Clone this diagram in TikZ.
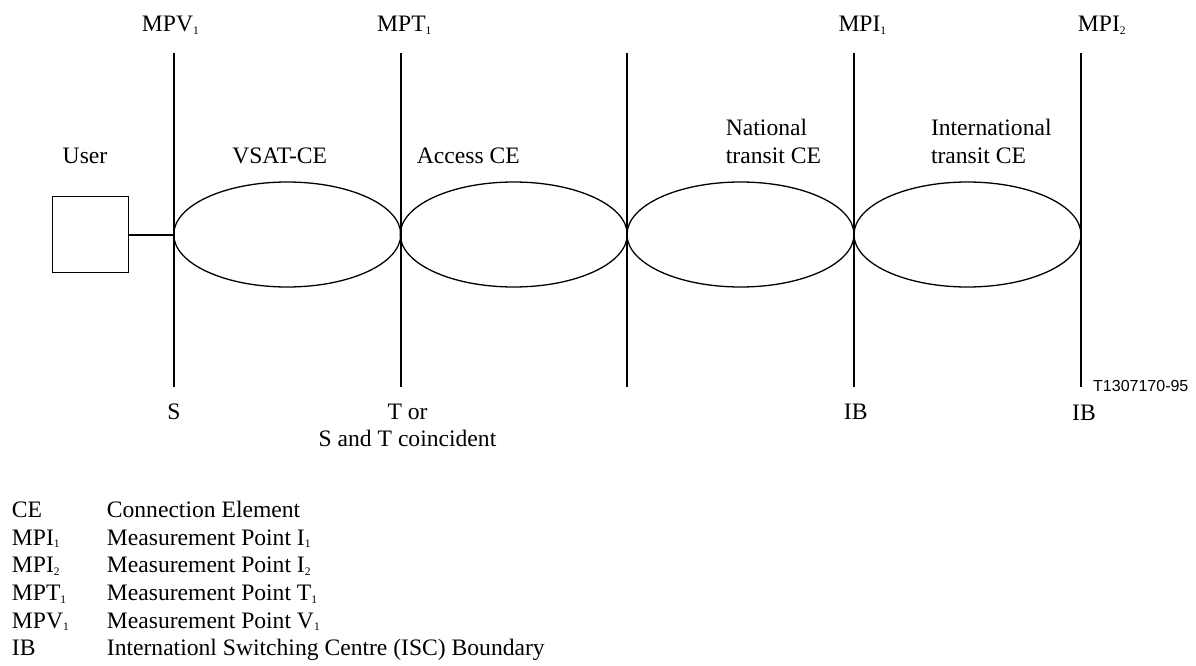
\documentclass[tikz,border=0pt]{standalone}
\usepackage{fontspec}
\setmainfont{Liberation Serif}
\newfontfamily\figsans{Liberation Sans}
\usetikzlibrary{shapes.geometric}
\newcommand\subx[1]{\raisebox{-2.5pt}{\fontsize{11.5}{12}\selectfont #1}}
\begin{document}
\begin{tikzpicture}[x=1pt,y=-1pt,
  txt/.style={inner sep=0pt, font=\fontsize{23.6}{27.6}\selectfont},
  vline/.style={line width=2pt},
  ce/.style={ellipse, draw, line width=1.3pt, minimum width=227pt, minimum height=105pt, inner sep=0pt},
  userbox/.style={rectangle, draw, line width=1.5pt, minimum size=76pt, inner sep=0pt},
]
\useasboundingbox (0,0) rectangle (1196,666);

% vertical boundary lines
\foreach \n/\x in {1/174,2/400.5,3/627,4/854,5/1081}{
  \coordinate (t\n) at (\x,53);
  \coordinate (b\n) at (\x,387);
  \draw[vline] (t\n) -- (b\n);
}

% connection elements
\node[ce] (e1) at (287.25,234.5) {};
\node[ce] (e2) at (513.75,234.5) {};
\node[ce] (e3) at (740.5,234.5) {};
\node[ce] (e4) at (967.5,234.5) {};

% user
\node[userbox] (user) at (90.3,234.5) {};
\draw[line width=2pt] (user.east) -- (e1.west);

% top labels
\node[txt, anchor=base west] (mpv) at (141.7,31.7) {MPV\subx{1}};
\node[txt, anchor=base west] (mpt) at (377,31.7) {MPT\subx{1}};
\node[txt, anchor=base west] (mpi1) at (838.3,31.7) {MPI\subx{1}};
\node[txt, anchor=base west] (mpi2) at (1077.7,31.7) {MPI\subx{2}};

% element labels
\node[txt, anchor=base] (luser) at (85,163) {User};
\node[txt, anchor=base] (lvsat) at (279.7,163) {VSAT-CE};
\node[txt, anchor=base west] (lacc) at (416.7,163) {Access CE};
\node[txt, anchor=north west, align=left] (lnat) at (725.7,119.4) {National\\transit CE};
\node[txt, anchor=north west, align=left] (lint) at (930.8,119.4) {International\\transit CE};

% bottom labels
\node[txt, anchor=base] (ls) at (174,419) {S};
\node[txt, anchor=north, align=center] (lt) at (407.5,403.4) {T or\\S and T coincident};
\node[txt, anchor=base] (lib1) at (855.7,419) {IB};
\node[txt, anchor=base] (lib2) at (1084,420.7) {IB};
\node[inner sep=0pt, anchor=base west, font=\figsans\fontsize{16}{18}\selectfont] (code) at (1093,391) {T1307170-95};

% legend
\node[txt, anchor=base west] (k1) at (11.7,517.7) {CE};
\node[txt, anchor=base west] (d1) at (106.7,517.7) {Connection Element};
\node[txt, anchor=base west] (k2) at (11.7,545.3) {MPI\subx{1}};
\node[txt, anchor=base west] (d2) at (106.7,545.3) {Measurement Point I\subx{1}};
\node[txt, anchor=base west] (k3) at (11.7,572.9) {MPI\subx{2}};
\node[txt, anchor=base west] (d3) at (106.7,572.9) {Measurement Point I\subx{2}};
\node[txt, anchor=base west] (k4) at (11.7,600.5) {MPT\subx{1}};
\node[txt, anchor=base west] (d4) at (106.7,600.5) {Measurement Point T\subx{1}};
\node[txt, anchor=base west] (k5) at (11.7,628.1) {MPV\subx{1}};
\node[txt, anchor=base west] (d5) at (106.7,628.1) {Measurement Point V\subx{1}};
\node[txt, anchor=base west] (k6) at (11.7,655.7) {IB};
\node[txt, anchor=base west] (d6) at (106.7,655.7) {Internationl Switching Centre (ISC) Boundary};
\end{tikzpicture}
\end{document}
